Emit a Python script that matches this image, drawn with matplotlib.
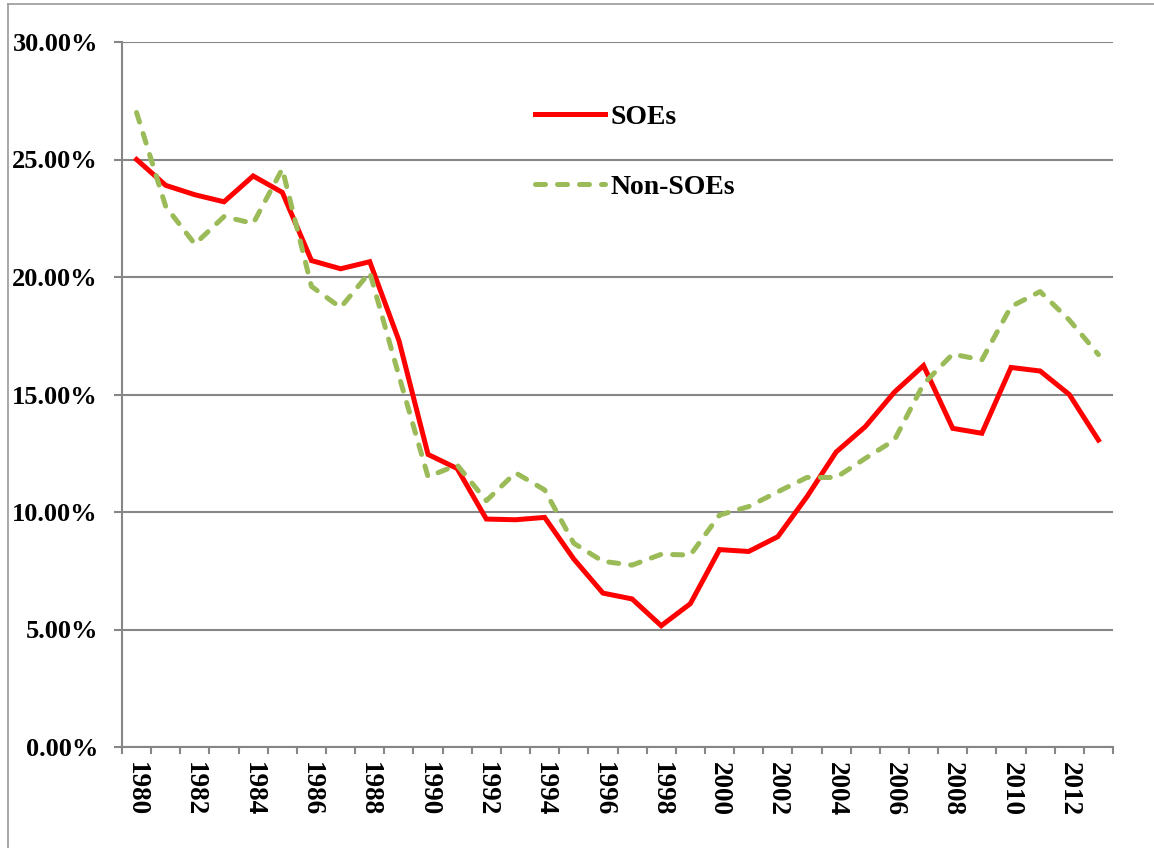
import matplotlib.pyplot as plt
from matplotlib.lines import Line2D
from matplotlib.ticker import FuncFormatter, MultipleLocator, FixedLocator
import numpy as np

years = list(range(1980, 2014))
soes = [25.0, 23.9, 23.5, 23.2, 24.3, 23.6, 20.7, 20.35, 20.65, 17.3,
        12.45, 11.85, 9.7, 9.67, 9.77, 8.0, 6.55, 6.3, 5.16, 6.1,
        8.4, 8.32, 8.95, 10.65, 12.55, 13.63, 15.1, 16.23, 13.56, 13.35,
        16.15, 16.0, 15.0, 13.06]
non_soes = [27.0, 23.0, 21.4, 22.57, 22.28, 24.6, 19.6, 18.7, 20.2, 15.8,
            11.5, 12.0, 10.48, 11.67, 10.94, 8.67, 7.9, 7.74, 8.2, 8.17,
            9.87, 10.23, 10.86, 11.47, 11.47, 12.28, 13.06, 15.45, 16.72, 16.47,
            18.74, 19.38, 18.17, 16.7]

plt.rcParams['font.family'] = ['Liberation Serif', 'DejaVu Serif']
plt.rcParams['font.weight'] = 'bold'

fig = plt.figure(figsize=(11.54, 8.48), dpi=100)
ax = fig.add_axes([122/1154, 1 - 747/848, (1113 - 122)/1154, (747 - 42)/848])

x = np.arange(len(years))
ax.plot(x, soes, color='#FF0000', lw=3.6, label='SOEs', solid_joinstyle='miter')
ax.plot(x, non_soes, color='#9BBB59', lw=3.6, ls=(0, (2.0, 2.4)),
        dash_capstyle='round', label='Non-SOEs')

ax.set_xlim(-0.5, len(years) - 0.5)
ax.set_ylim(0, 30)

grid_c = '#868686'
ax.yaxis.set_major_locator(MultipleLocator(5))
ax.yaxis.set_major_formatter(FuncFormatter(lambda v, p: f'{v:.2f}%'))
ax.grid(axis='y', color=grid_c, lw=1.5)
ax.set_axisbelow(True)

label_pos = x[::2]
ax.xaxis.set_major_locator(FixedLocator(label_pos))
ax.set_xticklabels([str(y) for y in years[::2]], rotation=-90)
ax.xaxis.set_minor_locator(FixedLocator(np.arange(-0.5, len(years), 1)))
ax.tick_params(axis='x', which='major', length=0, pad=10.5, labelsize=19.5)
ax.tick_params(axis='x', which='minor', length=5, width=1.5, color=grid_c)
ax.tick_params(axis='y', length=5.8, width=1.5, color=grid_c, labelsize=19, pad=11.5)

for s in ['top', 'right']:
    ax.spines[s].set_visible(False)
for s in ['left', 'bottom']:
    ax.spines[s].set_color(grid_c)
    ax.spines[s].set_linewidth(1.5)

ax.legend(loc='upper left', bbox_to_anchor=(0.417, 0.911), frameon=False,
          fontsize=20, handlelength=2.5, labelspacing=1.6, handletextpad=0.2,
          borderpad=0, borderaxespad=0)

# outer chart frame
fig.add_artist(Line2D([8/1154, 8/1154], [0, 1 - 4/848], color='#9a9a9a', lw=1.2))
fig.add_artist(Line2D([8/1154, 1], [1 - 4/848, 1 - 4/848], color='#9a9a9a', lw=1.2))

fig.savefig('out.png', dpi=100)
